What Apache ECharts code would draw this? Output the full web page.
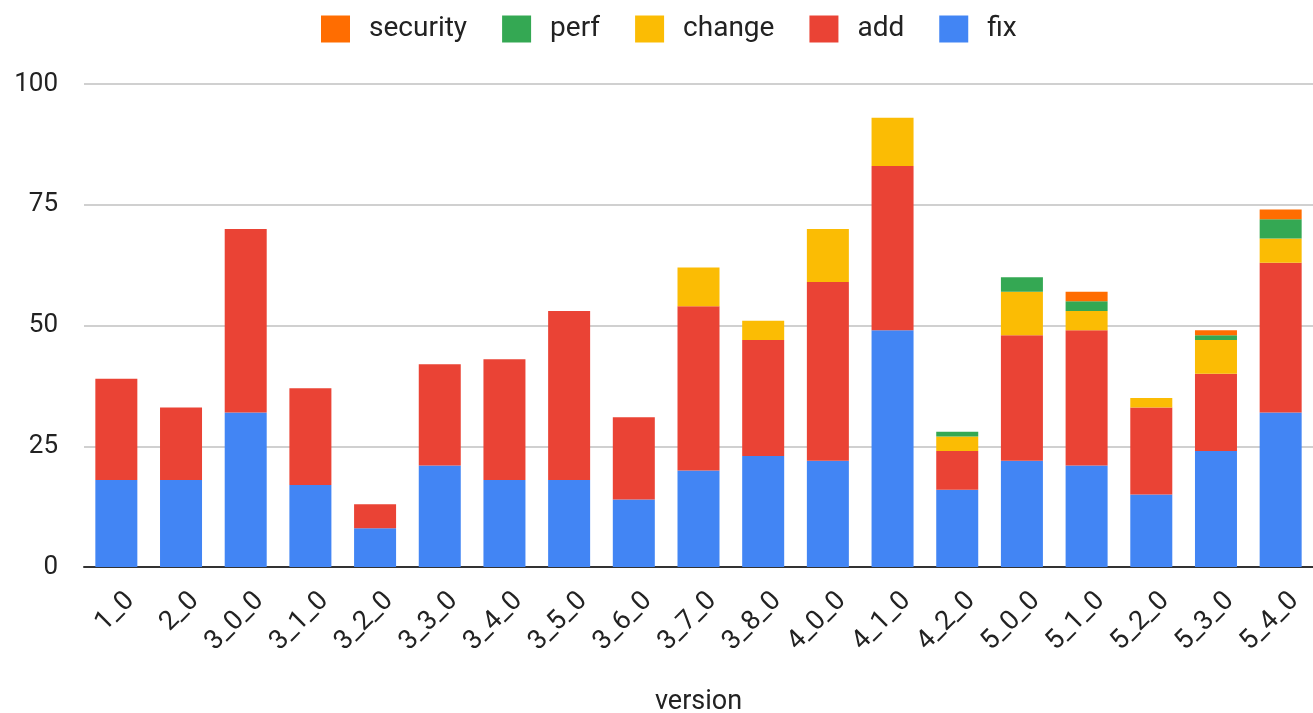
<!DOCTYPE html>
<html>
<head>
<meta charset="utf-8">
<script src="https://cdn.jsdelivr.net/npm/echarts@6/dist/echarts.min.js"></script>
<style>html,body{margin:0;padding:0;background:#fff}#c{width:1313px;height:713px}</style>
</head>
<body>
<div id="c"></div>
<script>
const categories = ['1_0','2_0','3_0_0','3_1_0','3_2_0','3_3_0','3_4_0','3_5_0','3_6_0','3_7_0','3_8_0','4_0_0','4_1_0','4_2_0','5_0_0','5_1_0','5_2_0','5_3_0','5_4_0'];
const fix      = [18,18,32,17, 8,21,18,18,14,20,23,22,49,16,22,21,15,24,32];
const add      = [21,15,38,20, 5,21,25,35,17,34,24,37,34, 8,26,28,18,16,31];
const change   = [ 0, 0, 0, 0, 0, 0, 0, 0, 0, 8, 4,11,10, 3, 9, 4, 2, 7, 5];
const perf     = [ 0, 0, 0, 0, 0, 0, 0, 0, 0, 0, 0, 0, 0, 1, 3, 2, 0, 1, 4];
const security = [ 0, 0, 0, 0, 0, 0, 0, 0, 0, 0, 0, 0, 0, 0, 0, 2, 0, 1, 2];
const yTicks = [0, 25, 50, 75, 100];

const FONT = 'Roboto, "Liberation Sans", Arial, sans-serif';
const chart = echarts.init(document.getElementById('c'));
function s(name, data, color) {
  return { name, type: 'bar', stack: 'total', data: data.map(v => v === 0 ? null : v),
    barWidth: 42, itemStyle: { color }, emphasis: { disabled: true } };
}
chart.setOption({
  animation: false,
  textStyle: { fontFamily: FONT },
  legend: {
    data: ['security','perf','change','add','fix'],
    left: 316, top: 10, itemWidth: 29, itemHeight: 27, itemGap: 35,
    icon: 'rect',
    formatter: name => '{g|}{t|' + name + '}',
    textStyle: { fontSize: 28, color: '#222', fontFamily: FONT,
      rich: { g: { width: 14 }, t: { fontSize: 28, color: '#222', fontFamily: FONT } } }
  },
  grid: { left: 84, right: 0, top: 84, bottom: 146, outerBoundsMode: 'none', containLabel: false },
  xAxis: {
    type: 'category', data: categories,
    axisTick: { show: false },
    axisLine: { lineStyle: { color: '#333', width: 2 } },
    axisLabel: { rotate: 45, fontSize: 27, color: '#222', margin: 16, verticalAlign: 'top',
      padding: [6, 0, 0, 0], interval: 0, fontFamily: FONT },
    name: 'version', nameLocation: 'middle', nameGap: 122,
    nameTextStyle: { fontSize: 27, color: '#222', fontFamily: FONT }
  },
  yAxis: {
    type: 'value', min: yTicks[0], max: yTicks[yTicks.length-1], interval: 25,
    axisLine: { show: false }, axisTick: { show: false },
    axisLabel: { fontSize: 26, color: '#222', margin: 26, fontFamily: FONT },
    splitLine: { lineStyle: { color: '#d0d0d0', width: 2 } }
  },
  series: [
    s('fix', fix, '#4285F4'),
    s('add', add, '#EA4335'),
    s('change', change, '#FBBC04'),
    s('perf', perf, '#34A853'),
    s('security', security, '#FF6D01')
  ]
});
</script>
</body>
</html>
